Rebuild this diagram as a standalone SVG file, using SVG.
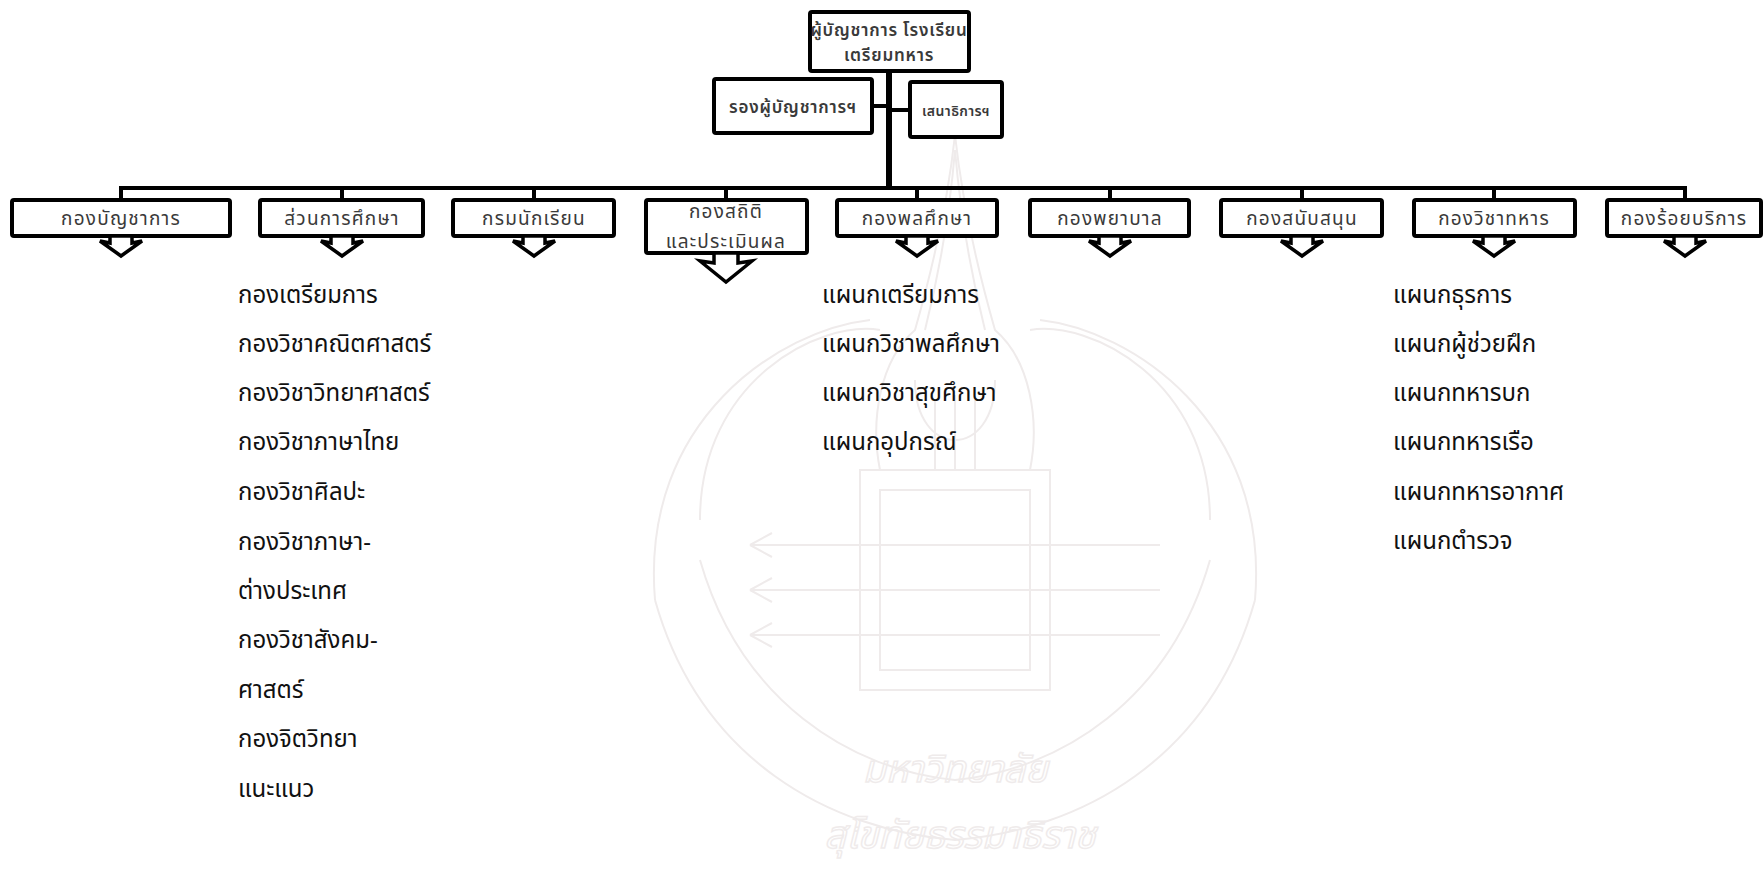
<svg xmlns="http://www.w3.org/2000/svg" width="1764" height="872" viewBox="0 0 1764 872">
<style>
.box{fill:#fff;stroke:#000;stroke-width:4;stroke-linejoin:round}
.bt{font-family:"Noto Sans Thai","Noto Sans","DejaVu Sans",sans-serif;font-size:19px;fill:#3a3a3a;text-anchor:middle;letter-spacing:1.2px}
.tt{font-size:17px;font-weight:600;letter-spacing:0.8px}
.lt{font-family:"Noto Sans Thai","Noto Sans","DejaVu Sans",sans-serif;font-size:24px;fill:#111}
.con{stroke:#000;fill:none;stroke-width:4}
.arr{fill:#fff;stroke:#000;stroke-width:3.5;stroke-linejoin:miter}
.wm{fill:none;stroke:#efebeb;stroke-width:2}
.wmt{font-family:"Noto Sans Thai","Noto Sans",sans-serif;font-size:38px;font-style:italic;fill:none;stroke:#efebeb;stroke-width:1.5;text-anchor:middle}
</style>
<rect width="1764" height="872" fill="#fff"/>
<g id="watermark">
<path class="wm" d="M955 135 C948 200 935 260 915 330 C880 360 870 420 880 470 L1030 470 C1040 420 1030 360 995 330 C975 260 962 200 955 135 Z"/>
<path class="wm" d="M955 150 C950 210 940 270 925 330 M955 150 C960 210 970 270 985 330"/>
<path class="wm" d="M700 520 C700 380 820 320 880 330 M1210 520 C1210 380 1090 320 1030 330"/>
<path class="wm" d="M655 600 C640 420 780 330 870 320 M1255 600 C1270 420 1130 330 1040 320"/>
<path class="wm" d="M655 600 C700 760 830 830 955 840 C1080 830 1210 760 1255 600"/>
<path class="wm" d="M700 560 C740 700 850 770 955 780 C1060 770 1170 700 1210 560"/>
<rect class="wm" x="860" y="470" width="190" height="220"/>
<rect class="wm" x="880" y="490" width="150" height="180"/>
<path class="wm" d="M750 545 L1160 545 M750 590 L1160 590 M750 635 L1160 635 M750 545 L772 533 M750 545 L772 557 M750 590 L772 578 M750 590 L772 602 M750 635 L772 623 M750 635 L772 647"/>
<path class="wm" d="M915 380 C915 420 935 440 955 440 C975 440 995 420 995 380 M935 400 L935 470 M955 395 L955 470 M975 400 L975 470"/>
<text class="wmt" x="955" y="782">มหาวิทยาลัย</text>
<text class="wmt" x="960" y="848">สุโขทัยธรรมาธิราช</text>
</g>
<g id="connectors">
<path class="con" d="M889 71 L889 188" style="stroke-width:6"/>
<path class="con" d="M872 106 L889 106 M889 110 L910 110"/>
<path class="con" d="M121 200 L121 188 L1685 188 L1685 200"/>
<path class="con" d="M342 188 V200 M534 188 V200 M726 188 V200 M917 188 V200 M1110 188 V200 M1302 188 V200 M1494 188 V200"/>
</g>
<g id="n-top">
<rect class="box" x="810" y="12" width="159" height="59" rx="2"/>
<text class="bt tt" x="889" y="36">ผู้บัญชาการ โรงเรียน</text>
<text class="bt tt" x="889" y="61">เตรียมทหาร</text>
</g>
<g id="n-deputy">
<rect class="box" x="714" y="79" width="158" height="54" rx="2"/>
<text class="bt tt" x="793" y="113">รองผู้บัญชาการฯ</text>
</g>
<g id="n-chief">
<rect class="box" x="910" y="82" width="92" height="55" rx="2"/>
<text class="bt tt" x="956" y="116" style="font-size:14px;letter-spacing:0.4px">เสนาธิการฯ</text>
</g>
<g id="n1">
<rect class="box" x="12" y="200" width="218" height="36" rx="2"/>
<text class="bt" x="121" y="225">กองบัญชาการ</text>
<polygon class="arr" points="110,236 110,243 100,241 121,256 142,241 132,243 132,236"/>
</g>
<g id="n2">
<rect class="box" x="260" y="200" width="163" height="36" rx="2"/>
<text class="bt" x="342" y="225">ส่วนการศึกษา</text>
<polygon class="arr" points="331,236 331,243 321,241 342,256 363,241 353,243 353,236"/>
</g>
<g id="n3">
<rect class="box" x="453" y="200" width="161" height="36" rx="2"/>
<text class="bt" x="534" y="225">กรมนักเรียน</text>
<polygon class="arr" points="523,236 523,243 513,241 534,256 555,241 545,243 545,236"/>
</g>
<g id="n4">
<rect class="box" x="646" y="200" width="161" height="53" rx="2"/>
<text class="bt" x="726" y="218">กองสถิติ</text>
<text class="bt" x="726" y="248">และประเมินผล</text>
<polygon class="arr" points="714,253 714,263 700,261 726,282 752,261 738,263 738,253"/>
</g>
<g id="n5">
<rect class="box" x="837" y="200" width="160" height="36" rx="2"/>
<text class="bt" x="917" y="225">กองพลศึกษา</text>
<polygon class="arr" points="906,236 906,243 896,241 917,256 938,241 928,243 928,236"/>
</g>
<g id="n6">
<rect class="box" x="1030" y="200" width="159" height="36" rx="2"/>
<text class="bt" x="1110" y="225">กองพยาบาล</text>
<polygon class="arr" points="1099,236 1099,243 1089,241 1110,256 1131,241 1121,243 1121,236"/>
</g>
<g id="n7">
<rect class="box" x="1221" y="200" width="161" height="36" rx="2"/>
<text class="bt" x="1302" y="225">กองสนับสนุน</text>
<polygon class="arr" points="1291,236 1291,243 1281,241 1302,256 1323,241 1313,243 1313,236"/>
</g>
<g id="n8">
<rect class="box" x="1414" y="200" width="161" height="36" rx="2"/>
<text class="bt" x="1494" y="225">กองวิชาทหาร</text>
<polygon class="arr" points="1483,236 1483,243 1473,241 1494,256 1515,241 1505,243 1505,236"/>
</g>
<g id="n9">
<rect class="box" x="1607" y="200" width="154" height="36" rx="2"/>
<text class="bt" x="1684" y="225">กองร้อยบริการ</text>
<polygon class="arr" points="1674,236 1674,243 1664,241 1685,256 1706,241 1696,243 1696,236"/>
</g>
<g id="list-education">
<text class="lt" x="238" y="303">กองเตรียมการ</text>
<text class="lt" x="238" y="352">กองวิชาคณิตศาสตร์</text>
<text class="lt" x="238" y="401">กองวิชาวิทยาศาสตร์</text>
<text class="lt" x="238" y="450">กองวิชาภาษาไทย</text>
<text class="lt" x="238" y="500">กองวิชาศิลปะ</text>
<text class="lt" x="238" y="550">กองวิชาภาษา-</text>
<text class="lt" x="238" y="599">ต่างประเทศ</text>
<text class="lt" x="238" y="648">กองวิชาสังคม-</text>
<text class="lt" x="238" y="698">ศาสตร์</text>
<text class="lt" x="238" y="747">กองจิตวิทยา</text>
<text class="lt" x="238" y="797">แนะแนว</text>
</g>
<g id="list-pe">
<text class="lt" x="822" y="303">แผนกเตรียมการ</text>
<text class="lt" x="822" y="352">แผนกวิชาพลศึกษา</text>
<text class="lt" x="822" y="401">แผนกวิชาสุขศึกษา</text>
<text class="lt" x="822" y="450">แผนกอุปกรณ์</text>
</g>
<g id="list-military">
<text class="lt" x="1393" y="303">แผนกธุรการ</text>
<text class="lt" x="1393" y="352">แผนกผู้ช่วยฝึก</text>
<text class="lt" x="1393" y="401">แผนกทหารบก</text>
<text class="lt" x="1393" y="450">แผนกทหารเรือ</text>
<text class="lt" x="1393" y="500">แผนกทหารอากาศ</text>
<text class="lt" x="1393" y="549">แผนกตำรวจ</text>
</g>
</svg>
